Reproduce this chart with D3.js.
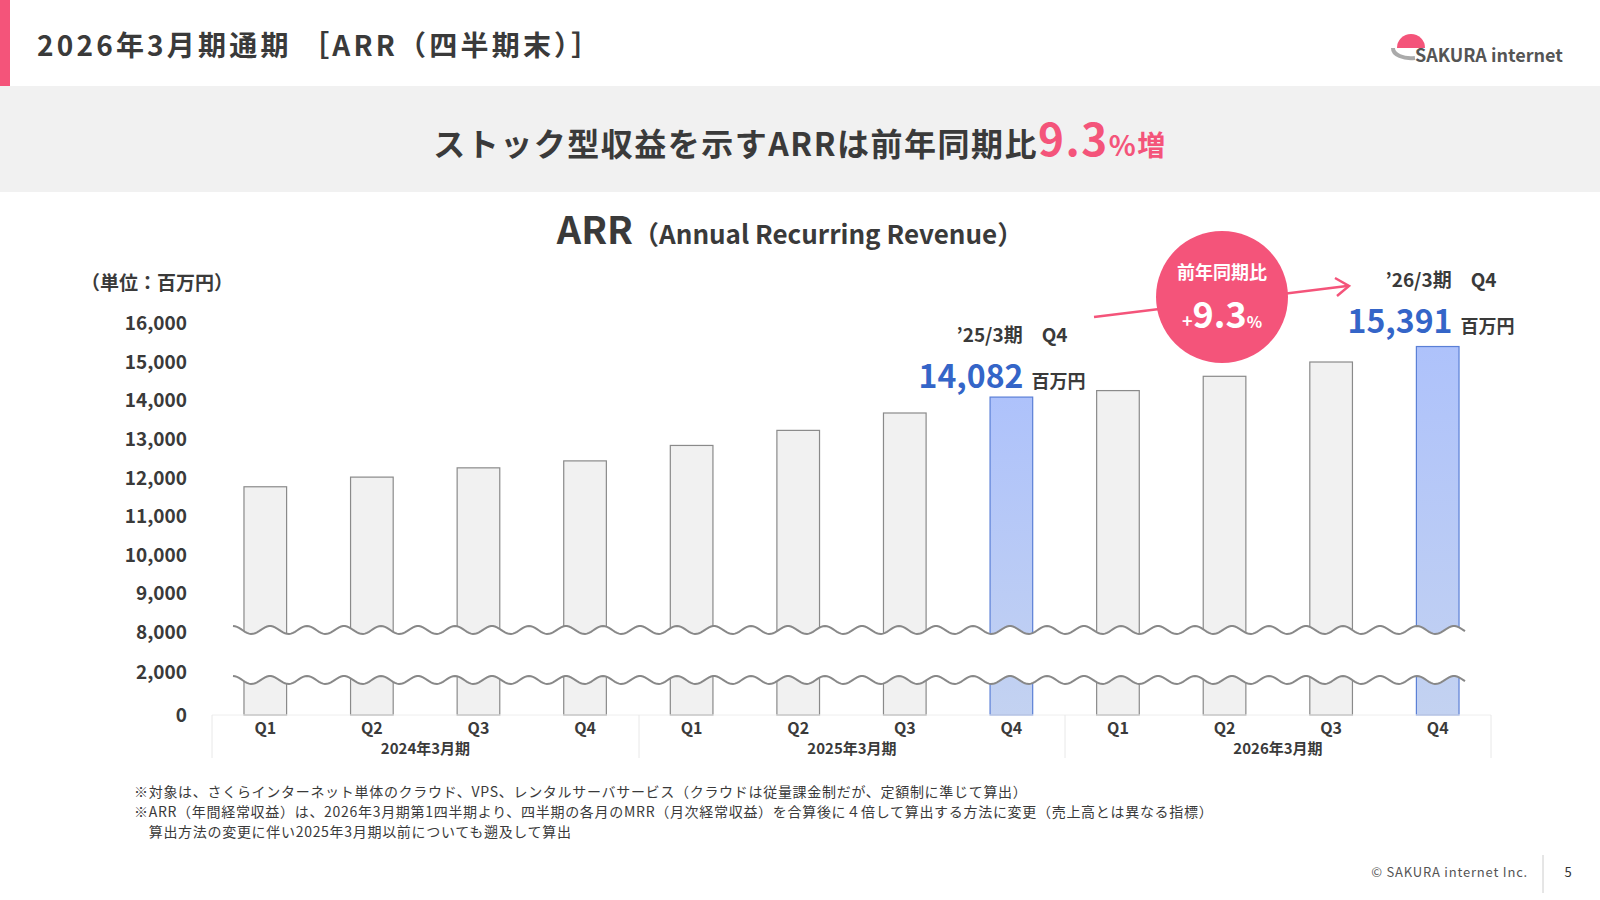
<!DOCTYPE html>
<html><head><meta charset="utf-8">
<script src="https://cdn.jsdelivr.net/npm/d3@7"></script>
<style>
body{margin:0;background:#fff;font-family:"Noto Sans CJK JP","Noto Sans",sans-serif;}
svg text{font-family:"Noto Sans CJK JP","Noto Sans",sans-serif;}
</style></head>
<body><svg id="c" width="1600" height="900"></svg>
<script>
// ARR per quarter (million yen)
var quarters = ['Q1','Q2','Q3','Q4','Q1','Q2','Q3','Q4','Q1','Q2','Q3','Q4'];
var fiscalYears = ['2024年3月期','2025年3月期','2026年3月期'];
var arr = [11760, 12010, 12250, 12430, 12830, 13220, 13670, 14082, 14250, 14620, 14990, 15391];
var highlight = [7, 11];
var yTicks = [0, 2000, 8000, 9000, 10000, 11000, 12000, 13000, 14000, 15000, 16000];

var svg = d3.select('#c');
var dark = '#3a3a3a';

// header
svg.append('rect').attr('x',0).attr('y',0).attr('width',10).attr('height',86).attr('fill','#f4547a');
svg.append('text').attr('x',37).attr('y',56).attr('font-size',28).attr('font-weight',700)
  .attr('fill',dark).attr('letter-spacing',3.2).text('2026年3月期通期 ［ARR（四半期末）］');
svg.append('rect').attr('x',0).attr('y',86).attr('width',1600).attr('height',106).attr('fill','#f1f1f1');
var sub = svg.append('text').attr('x',800).attr('y',156).attr('text-anchor','middle')
  .attr('font-size',32).attr('font-weight',700).attr('fill',dark).attr('letter-spacing',1.5);
sub.append('tspan').text('ストック型収益を示すARRは前年同期比');
sub.append('tspan').attr('fill','#f4547a').attr('font-size',44).text('9.3');
sub.append('tspan').attr('fill','#f4547a').attr('font-size',28).text('%増');

// logo
svg.append('path').attr('d','M1397,48 a14,14 0 0 1 28,0 z').attr('fill','#f4547a');
svg.append('path').attr('d','M1393,48 a18,10 0 0 0 22,10').attr('fill','none').attr('stroke','#aaa').attr('stroke-width',4);
svg.append('text').attr('x',1415).attr('y',62).attr('font-size',18).attr('font-weight',600).attr('fill','#555').text('SAKURA internet');

// chart title
var t = svg.append('text').attr('x',790).attr('y',244).attr('text-anchor','middle').attr('fill',dark).attr('font-weight',700);
t.append('tspan').attr('font-size',38).text('ARR');
t.append('tspan').attr('font-size',26).attr('font-weight',600).text('（Annual Recurring Revenue）');
svg.append('text').attr('x',157).attr('y',290).attr('text-anchor','middle').attr('font-size',19).attr('font-weight',600).attr('fill',dark).text('（単位：百万円）');

// scales
var x = d3.scaleBand().domain(d3.range(quarters.length)).range([212, 1491]).paddingInner(0.6).paddingOuter(0.3);
var y = d3.scaleLinear().domain([0, 2000, 8000, 16000]).range([715, 672, 632, 323]);

var defs = svg.append('defs');
var g = defs.append('linearGradient').attr('id','hl').attr('x1',0).attr('x2',0).attr('y1',0).attr('y2',1);
g.append('stop').attr('offset','0%').attr('stop-color','#aec2fb');
g.append('stop').attr('offset','100%').attr('stop-color','#c3d2f1');

svg.append('g').selectAll('rect').data(arr).enter().append('rect')
  .attr('x', function(d,i){ return x(i); })
  .attr('y', function(d){ return y(d); })
  .attr('width', x.bandwidth())
  .attr('height', function(d){ return y(0) - y(d); })
  .attr('fill', function(d,i){ return highlight.indexOf(i) >= 0 ? 'url(#hl)' : '#f1f1f1'; })
  .attr('stroke', function(d,i){ return highlight.indexOf(i) >= 0 ? '#5a7fd6' : '#8a8a8a'; })
  .attr('stroke-width', 1.2);

// axis break
var wx = d3.range(233, 1467, 2);
var wave = function(base){ return wx.map(function(v){ return [v, base + 4*Math.sin((v-233)/37*2*Math.PI - Math.PI/2)]; }); };
var w1 = wave(630), w2 = wave(680);
svg.append('path').attr('d', d3.line()(w1.concat(w2.slice().reverse())) + 'Z').attr('fill','#fff');
svg.append('path').attr('d', d3.line()(w1)).attr('fill','none').attr('stroke','#888').attr('stroke-width',2);
svg.append('path').attr('d', d3.line()(w2)).attr('fill','none').attr('stroke','#888').attr('stroke-width',2);

// y axis labels
svg.append('g').selectAll('text').data(yTicks).enter().append('text')
  .attr('x', 187).attr('y', function(d){ return y(d) + 7; }).attr('text-anchor','end')
  .attr('font-size',19).attr('font-weight',600).attr('fill',dark).text(d3.format(','));

// x axis table
var bx = [212, 639, 1065, 1491];
svg.append('line').attr('x1',212).attr('x2',1491).attr('y1',y(0)).attr('y2',y(0)).attr('stroke','#eee');
svg.append('g').selectAll('line').data(bx).enter().append('line')
  .attr('x1',function(d){return d;}).attr('x2',function(d){return d;}).attr('y1',y(0)).attr('y2',758).attr('stroke','#e8e8e8');
svg.append('g').selectAll('text').data(quarters).enter().append('text')
  .attr('x', function(d,i){ return x(i) + x.bandwidth()/2; }).attr('y', 734).attr('text-anchor','middle')
  .attr('font-size',16).attr('font-weight',600).attr('fill',dark).text(function(d){ return d; });
svg.append('g').selectAll('text').data(fiscalYears).enter().append('text')
  .attr('x', function(d,i){ return (bx[i]+bx[i+1])/2; }).attr('y', 754).attr('text-anchor','middle')
  .attr('font-size',15).attr('font-weight',600).attr('fill',dark).text(function(d){ return d; });

// annotations
function callout(i, label, cx, top){
  svg.append('text').attr('x', cx).attr('y', top).attr('text-anchor','middle').attr('font-size',19).attr('font-weight',600).attr('fill',dark).text(label);
  var tt = svg.append('text').attr('x', cx - 10).attr('y', top + 46).attr('text-anchor','middle').attr('font-weight',700);
  tt.append('tspan').attr('font-size',32).attr('fill','#3465c8').text(d3.format(',')(arr[i]));
  tt.append('tspan').attr('font-size',18).attr('fill',dark).attr('dx',8).text('百万円');
}
callout(7, '’25/3期　Q4', 1012, 342);
callout(11, '’26/3期　Q4', 1441, 287);
svg.append('line').attr('x1',1094).attr('y1',317).attr('x2',1347).attr('y2',286).attr('stroke','#f4547a').attr('stroke-width',2.5);
svg.append('path').attr('d','M1335,278 L1349,286 L1337,296').attr('fill','none').attr('stroke','#f4547a').attr('stroke-width',2.5);
svg.append('circle').attr('cx',1222).attr('cy',297).attr('r',66).attr('fill','#f4547a');
svg.append('text').attr('x',1222).attr('y',279).attr('text-anchor','middle').attr('font-size',18).attr('font-weight',700).attr('fill','#fff').text('前年同期比');
var p = svg.append('text').attr('x',1222).attr('y',328).attr('text-anchor','middle').attr('fill','#fff').attr('font-weight',700);
p.append('tspan').attr('font-size',18).text('+');
p.append('tspan').attr('font-size',36).text('9.3');
p.append('tspan').attr('font-size',16).text('%');

// notes
var notes = ['※対象は、さくらインターネット単体のクラウド、VPS、レンタルサーバサービス（クラウドは従量課金制だが、定額制に準じて算出）',
  '※ARR（年間経常収益）は、2026年3月期第1四半期より、四半期の各月のMRR（月次経常収益）を合算後に４倍して算出する方法に変更（売上高とは異なる指標）',
  '　算出方法の変更に伴い2025年3月期以前についても遡及して算出'];
svg.append('g').selectAll('text').data(notes).enter().append('text')
  .attr('x',134).attr('y',function(d,i){ return 797 + i*20; }).attr('font-size',14).attr('letter-spacing',0.7)
  .attr('fill',dark).text(function(d){ return d; });
svg.append('text').attr('x',1528).attr('y',877).attr('text-anchor','end').attr('font-size',13).attr('fill','#555').attr('letter-spacing',0.8).text('© SAKURA internet Inc.');
svg.append('line').attr('x1',1543).attr('x2',1543).attr('y1',855).attr('y2',893).attr('stroke','#ccc');
svg.append('text').attr('x',1568).attr('y',877).attr('text-anchor','middle').attr('font-size',13).attr('fill','#333').text('5');
</script></body></html>
